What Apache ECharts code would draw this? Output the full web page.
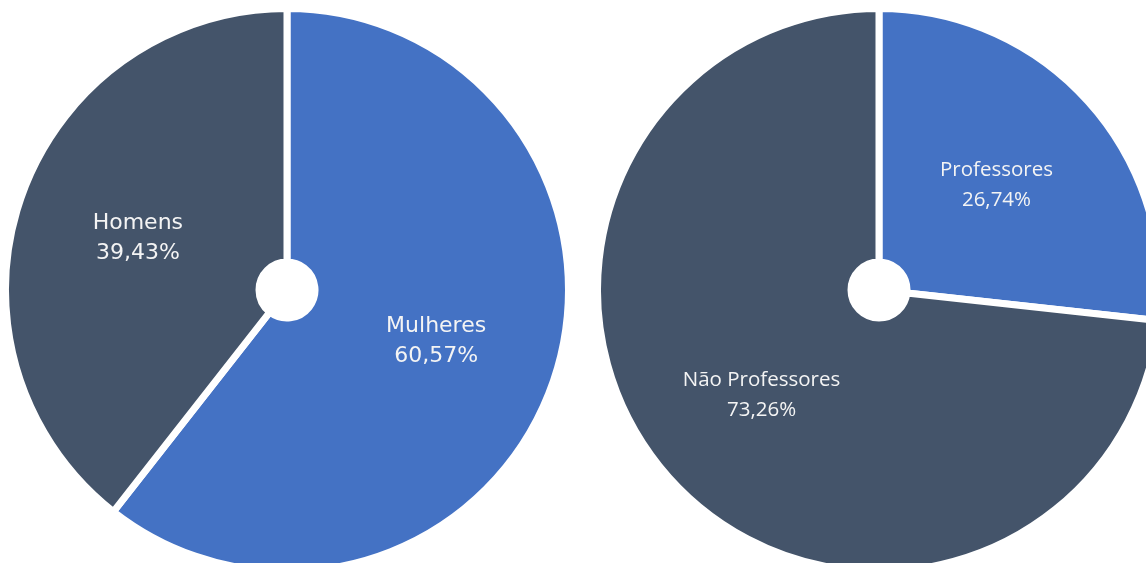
<!DOCTYPE html>
<html><head><meta charset="utf-8">
<script src="https://cdn.jsdelivr.net/npm/echarts@6/dist/echarts.min.js"></script>
<style>html,body{margin:0;padding:0;background:#fff}#c{width:1146px;height:563px}</style>
</head><body><div id="c"></div>
<script>
const genderCats = ['Mulheres', 'Homens'];
const genderVals = [60.57, 39.43];
const profCats = ['Professores', 'Não Professores'];
const profVals = [26.74, 73.26];
const colors = ['#4472C4', '#44546A'];

const fmt = p => p.name + '\n' + p.value.toFixed(2).replace('.', ',') + '%';
function mk(cats, vals, center, font, size) {
  return {
    type: 'pie', center: center, radius: [28, 281.5], startAngle: 90, clockwise: true,
    avoidLabelOverlap: false, silent: true, animation: false,
    itemStyle: { borderColor: '#fff', borderWidth: 7 },
    label: { show: true, position: 'inside', formatter: fmt, color: '#f4f4f4',
      fontSize: size, lineHeight: 30, fontFamily: font },
    labelLine: { show: false },
    data: cats.map((c, i) => ({ name: c, value: vals[i], itemStyle: { color: colors[i] } }))
  };
}
const chart = echarts.init(document.getElementById('c'));
chart.setOption({
  backgroundColor: '#fff',
  series: [
    mk(genderCats, genderVals, [287, 290], 'DejaVu Sans', 22),
    mk(profCats, profVals, [879, 290], 'Open Sans', 20.5)
  ]
});
</script></body></html>
